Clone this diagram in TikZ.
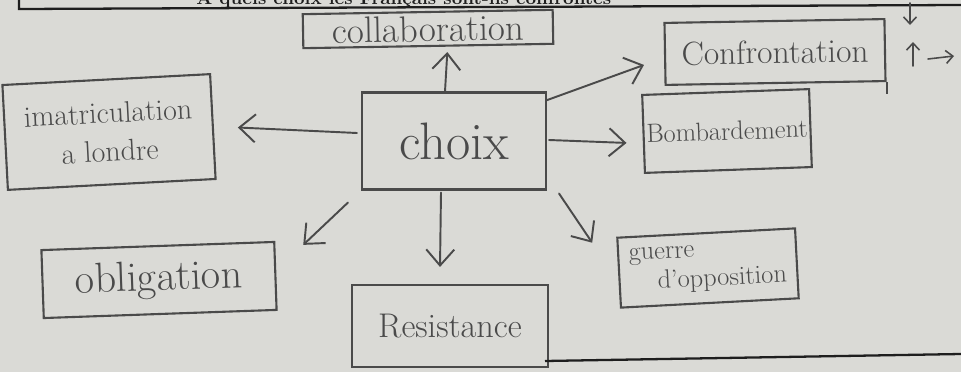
\documentclass[tikz,border=0pt]{standalone}
\usepackage{fontspec}
\usetikzlibrary{arrows.meta,calc}
\definecolor{paper}{HTML}{DADAD6}
\definecolor{pencil}{HTML}{4A4A4A}
\definecolor{ink}{HTML}{1E1E1E}
\begin{document}
\begin{tikzpicture}[x=0.02cm,y=-0.02cm,
  box/.style={draw=pencil, line width=1.2pt, inner sep=0pt, text=pencil},
  conn/.style={draw=pencil, line width=1.1pt, line cap=round, line join=round,
    -{Straight Barb[length=0.32cm,width=0.56cm,line width=1.1pt]}},
  scrib/.style={draw=pencil, line width=0.9pt, line cap=round,
    -{Straight Barb[length=0.14cm,width=0.26cm,line width=0.9pt]}}]
\useasboundingbox (0,0) rectangle (961,372);
\clip (0,0) rectangle (961,372);
\fill[paper] (0,0) rectangle (961,372);

% header (cut off at the top)
\draw[ink, line width=1.3pt] (19,-5) -- (19,9) -- (961,5);
\node[anchor=base west, inner sep=0pt, text=ink,
  font=\fontsize{10.5}{12}\bfseries\selectfont] (title) at (196,5)
  {A quels choix les Français sont-ils confrontés};

% boxes
\node[box, minimum width=4.16cm, minimum height=2.10cm, rotate=3, align=center,
  font=\fontsize{17}{22}\selectfont] (imat) at (109,132) {imatriculation\\a londre};
\node[box, minimum width=3.68cm, minimum height=1.94cm,
  font=\fontsize{30}{34}\selectfont] (choix) at (454,141) {choix};
\node[box, minimum width=5.0cm, minimum height=0.68cm, rotate=1,
  font=\fontsize{21}{24}\selectfont] (collab) at (428,29) {collaboration};
\node[box, minimum width=4.4cm, minimum height=1.24cm, rotate=1,
  font=\fontsize{19}{22}\selectfont] (confr) at (775,52) {Confrontation};
\node[box, minimum width=3.34cm, minimum height=1.56cm, rotate=2,
  font=\fontsize{15}{18}\selectfont] (bomb) at (727,131) {Bombardement};
\node[box, minimum width=4.66cm, minimum height=1.36cm, rotate=2,
  font=\fontsize{24}{28}\selectfont] (oblig) at (159,280) {obligation};
\node[box, minimum width=3.92cm, minimum height=1.64cm,
  font=\fontsize{19.5}{22}\selectfont] (resist) at (450,326) {Resistance};
\node[box, minimum width=3.56cm, minimum height=1.40cm, rotate=3, align=left,
  font=\fontsize{15}{17}\selectfont] (guerre) at (708,268) {guerre\\\hspace*{0.55cm}d'opposition};

% overshooting right edge of the Confrontation box
\draw[pencil, line width=1.2pt] (confr.south east) -- ($(confr.south east)+(0,12)$);

% connectors
\draw[conn] ($(choix.north)+(-9,0)$) -- ($(collab.south)+(19,5)$);
\draw[conn] ($(choix.west)+(-4,-8)$) -- ($(imat.east)+(24,1)$);
\draw[conn] ($(choix.north east)+(-1,9)$) -- ($(confr.west)+(-20,11)$);
\draw[conn] ($(choix.east)+(2,-1)$) -- ($(bomb.west)+(-16,9)$);
\draw[conn] ($(choix.south west)+(-13,12)$) -- ($(oblig.north east)+(28,4)$);
\draw[conn] ($(choix.south)+(-13,2)$) -- ($(resist.north)+(-10,-17)$);
\draw[conn] ($(choix.south east)+(12,3)$) -- ($(guerre.north west)+(-24,6)$);

% small marks at top right
\coordinate (d1) at (910,3); \coordinate (d2) at (910,25);
\coordinate (u1) at (913,66); \coordinate (u2) at (913,42);
\coordinate (r1) at (928,59); \coordinate (r2) at (954,56);
\draw[scrib] (d1) -- (d2);
\draw[scrib] (u1) -- (u2);
\draw[scrib] (r1) -- (r2);

% bottom printed rule
\coordinate (b1) at (545,361); \coordinate (b2) at (961,354);
\draw[ink, line width=1.3pt] (b1) -- (b2);
\end{tikzpicture}
\end{document}
